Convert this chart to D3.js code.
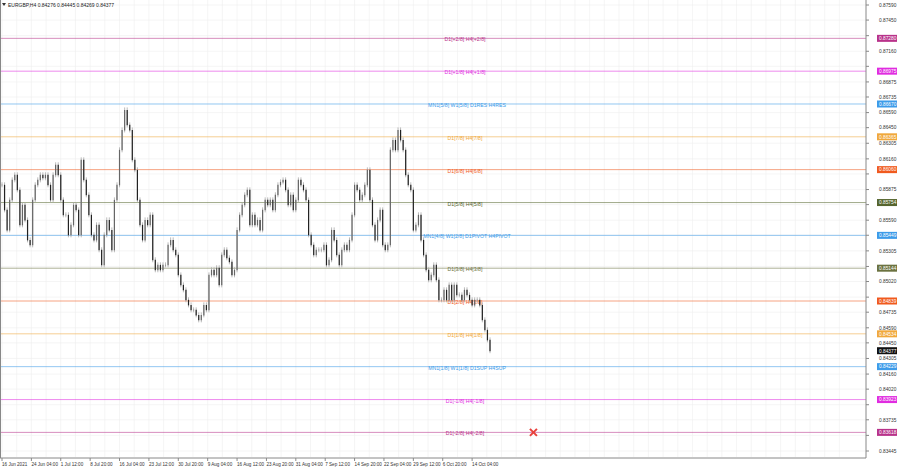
<!DOCTYPE html>
<html><head><meta charset="utf-8">
<script src="https://cdn.jsdelivr.net/npm/d3@7"></script>
<style>body{margin:0;background:#fff}svg{display:block;font-family:"Liberation Sans",Arial,sans-serif}</style>
</head><body><svg id="chart" width="900" height="468"></svg>
<script>
var closes = [
 .85919,.85686,.85500,.85779,.85965,.86012,.85872,.85547,.85733,.85593,.85407,.85361,.85779,.85919,.85965,.86012,.85984,.86012,.85919,.85779,
 .86012,.86105,.86012,.85779,.85640,.85640,.85454,.85547,.85733,.85686,.85454,.86151,.85965,.85826,.85640,.85454,.85407,.85547,.85315,.85175,
 .85454,.85593,.85500,.85315,.85779,.85919,.86244,.86429,.86615,.86476,.86429,.86151,.86058,.85779,.85547,.85407,.85593,.85547,.85640,.85222,
 .85129,.85175,.85129,.85175,.85175,.85361,.85407,.85315,.85268,.85082,.84989,.84943,.84850,.84803,.84757,.84757,.84710,.84664,.84710,.84803,
 .84757,.85082,.85129,.85082,
 .85148,.84989,.85268,.85315,.85240,.85203,.85082,.85129,.85500,.85640,.85733,.85826,.85872,.85547,.85640,.85547,.85593,.85500,.85686,.85779,
 .85733,.85779,.85686,.85826,.85919,.85946,.85965,.85872,.85733,.85826,.85686,.85779,.85965,.85919,.85872,.85779,.85454,.85361,.85268,.85315,
 .85315,.85315,.85361,.85175,.85222,.85500,.85407,.85268,.85175,.85315,.85361,.85315,.85407,.85640,.85919,.85872,.85779,.85826,.85919,.86058,
 .85779,.85547,.85407,.85593,.85686,.85361,.85315,.85361,.86244,.86336,.86244,.86429,.86336,.86244,.86012,.85919,.85872,.85500,.85547,.85640,
 .85407,.85268,.85129,.85036,.85082,.85175,.85036,.84850,.84850,.84943,.84850,.84989,.84850,.84989,.84896,.84896,.84850,.84943,.84896,.84850,
 .84803,.84850,.84850,.84803,.84664,.84571,.84478,.84377
];
var levelPrices = [0.87280,0.86975,0.86670,0.86365,0.86060,0.85754,0.85449,0.85144,0.84839,0.84534,0.84229,0.83923,0.83618];
var levelNames = ['D1[+2/8] H4[+2/8]','D1[+1/8] H4[+1/8]','MN1[5/8] W1[5/8] D1RES H4RES','D1[7/8] H4[7/8]','D1[6/8] H4[6/8]',
  'D1[5/8] H4[5/8]','MN1[4/8] W1[2/8] D1PIVOT H4PIVOT','D1[3/8] H4[3/8]','D1[2/8] H4[2/8]','D1[1/8] H4[1/8]',
  'MN1[1/8] W1[1/8] D1SUP H4SUP','D1[-1/8] H4[-1/8]','D1[-2/8] H4[-2/8]'];
var levelColors = ['#b8328a','#e02ce0','#3d9be9','#f0a83c','#f05a1e','#56652e','#3d9be9','#6b7240','#f05a1e','#f0a83c','#3d9be9','#e02ce0','#b8328a'];
var priceTicks = [0.87590,0.87450,0.87305,0.87160,0.87020,0.86875,0.86735,0.86590,0.86450,0.86305,0.86160,0.86020,0.85875,0.85735,0.85590,
  0.85450,0.85305,0.85160,0.85020,0.84875,0.84735,0.84590,0.84450,0.84305,0.84160,0.84020,0.83875,0.83735,0.83590,0.83445];
var dateTicks = [0,11.5,23,34.5,46,57.5,69,80.5,92,103.5,115,126.5,138,149.5,161,172.5,184];
var dateLabels = ['16 Jun 2021','24 Jun 04:00','1 Jul 12:00','8 Jul 20:00','16 Jul 04:00','23 Jul 12:00','30 Jul 20:00','9 Aug 04:00',
  '16 Aug 12:00','23 Aug 20:00','31 Aug 04:00','7 Sep 12:00','14 Sep 20:00','22 Sep 04:00','29 Sep 12:00','6 Oct 20:00','14 Oct 04:00'];
var title = 'EURGBP,H4  0.84276 0.84445 0.84269 0.84377';
var markerBar = 208, markerPrice = 0.83618;

var svg = d3.select('#chart');
var x = d3.scaleLinear().domain([0, closes.length - 1]).range([2, 490]);
var y = d3.scaleLinear().domain([0.83445, 0.87590]).range([451, 5]);
var W = 866;
var last = closes[closes.length - 1];

// grid
svg.append('g').selectAll('line').data(d3.range(0, 330, 5.75)).enter().append('line')
  .attr('x1', function(d) { return x(d); }).attr('x2', function(d) { return x(d); })
  .attr('y1', 0).attr('y2', 457).attr('stroke', '#eeeeee').attr('stroke-width', 0.6);
svg.append('g').selectAll('line').data(priceTicks).enter().append('line')
  .attr('x1', 0).attr('x2', W).attr('y1', function(d) { return y(d); }).attr('y2', function(d) { return y(d); })
  .attr('stroke', '#eeeeee').attr('stroke-width', 0.6);

// levels
var lv = svg.append('g');
levelPrices.forEach(function(p, i) {
  lv.append('line').attr('x1', 0).attr('x2', W).attr('y1', y(p)).attr('y2', y(p))
    .attr('stroke', levelColors[i]).attr('stroke-width', 1).attr('opacity', 0.55);
});

// candles
var g = svg.append('g');
closes.forEach(function(c, i) {
  var o = i ? closes[i - 1] : c;
  var hi = Math.max(o, c), lo = Math.min(o, c);
  g.append('line').attr('x1', x(i)).attr('x2', x(i)).attr('y1', y(hi) - 2.5).attr('y2', y(lo) + 2.5)
    .attr('stroke', '#aaa').attr('stroke-width', 0.8);
  g.append('line').attr('x1', x(i)).attr('x2', x(i)).attr('y1', y(hi)).attr('y2', y(lo) + 0.5)
    .attr('stroke', c < o ? '#222' : '#666').attr('stroke-width', 1.2);
});

// level texts
levelPrices.forEach(function(p, i) {
  lv.append('text').attr('x', levelNames[i].indexOf('MN1') === 0 ? 467 : 465).attr('y', y(p) + 3)
    .attr('text-anchor', 'middle').attr('font-size', 5.2).attr('fill', levelColors[i]).text(levelNames[i]);
});

// frame
svg.append('line').attr('x1', W).attr('x2', W).attr('y1', 0).attr('y2', 458).attr('stroke', '#888');
svg.append('line').attr('x1', 0).attr('x2', W).attr('y1', 458).attr('y2', 458).attr('stroke', '#888');
svg.append('line').attr('x1', 0.5).attr('x2', 0.5).attr('y1', 0).attr('y2', 458).attr('stroke', '#888');

var ax = svg.append('g');
var boxes = levelPrices.concat([last]);
priceTicks.forEach(function(p) {
  ax.append('line').attr('x1', W).attr('x2', W + 3).attr('y1', y(p)).attr('y2', y(p)).attr('stroke', '#888');
  var near = boxes.some(function(b) { return Math.abs(y(b) - y(p)) < 6; });
  if (!near) ax.append('text').attr('x', 879).attr('y', y(p) + 1.8).attr('font-size', 4.8).attr('fill', '#333').text(p.toFixed(5));
});
levelPrices.forEach(function(p, i) {
  ax.append('rect').attr('x', 877).attr('y', y(p) - 3.5).attr('width', 20).attr('height', 7).attr('fill', levelColors[i]);
  ax.append('text').attr('x', 879).attr('y', y(p) + 1.8).attr('font-size', 4.8).attr('fill', '#fff').text(p.toFixed(5));
});
ax.append('rect').attr('x', 877).attr('y', y(last) - 3.5).attr('width', 20).attr('height', 7).attr('fill', '#111');
ax.append('text').attr('x', 879).attr('y', y(last) + 1.8).attr('font-size', 4.8).attr('fill', '#fff').text(last.toFixed(5));

dateTicks.forEach(function(d, i) {
  ax.append('line').attr('x1', x(d)).attr('x2', x(d)).attr('y1', 458).attr('y2', 461).attr('stroke', '#888');
  ax.append('text').attr('x', x(d)).attr('y', 465.5).attr('font-size', 4.6).attr('fill', '#333').text(dateLabels[i]);
});

// marker
var mx = x(markerBar), my = y(markerPrice);
svg.append('path').attr('d', 'M' + (mx - 3.5) + ',' + (my - 3.5) + 'L' + (mx + 3.5) + ',' + (my + 3.5) +
  'M' + (mx + 3.5) + ',' + (my - 3.5) + 'L' + (mx - 3.5) + ',' + (my + 3.5))
  .attr('stroke', '#e8413c').attr('stroke-width', 2);

// title
svg.append('path').attr('d', 'M2,3L6,3L4,6Z').attr('fill', '#333');
svg.append('text').attr('x', 8).attr('y', 7).attr('font-size', 5).attr('fill', '#222').text(title);
</script></body></html>
